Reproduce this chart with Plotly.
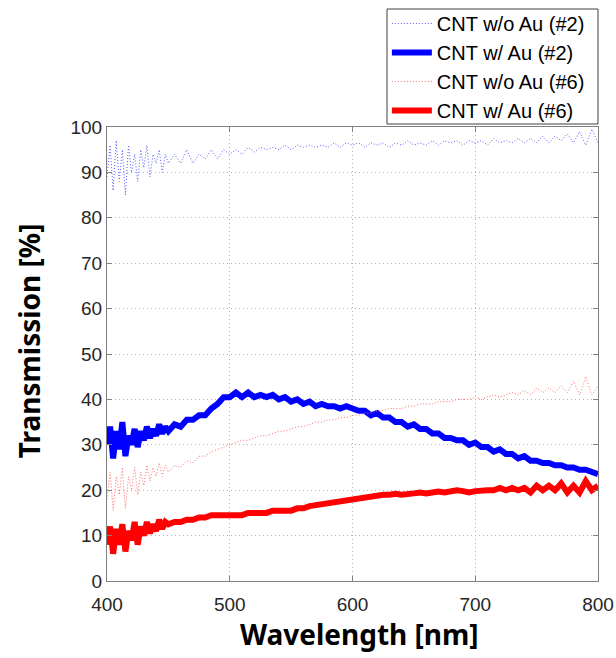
import plotly.graph_objects as go

# wavelength grid: 2.5 nm steps up to 450 nm, then 5 nm steps
wavelength = [400, 402.5, 405, 407.5, 410, 412.5, 415, 417.5, 420, 422.5, 425,
              427.5, 430, 432.5, 435, 437.5, 440, 442.5, 445, 447.5, 450] + list(range(455, 801, 5))

cnt_wo_au_2 = [89, 96, 86, 97, 88, 95, 85, 96, 90, 94, 88,
               95, 91, 96, 89, 94, 92, 95, 90, 94, 92,
               94, 92, 95, 92, 94, 93, 95, 93, 95, 94,
               95, 94, 95.5, 94.5, 95.5, 95, 95.5, 95, 96, 95,
               96, 95.5, 96, 95.5, 96, 95.5, 96.5, 95.5, 96.5, 96,
               96.5, 95.5, 96.5, 96, 96.5, 95.5, 96.5, 96, 97, 96,
               96.5, 96, 97, 96, 97, 96.5, 97, 96, 97, 96.5,
               97, 96, 97.5, 96.5, 97, 96.5, 97.5, 96.5, 97.5, 96.5,
               98, 96.5, 98, 97, 98.5, 96.5, 99, 96, 99.5, 96.5]

cnt_w_au_2 = [30, 34, 27, 33, 29, 35, 27.5, 32, 30, 33.5, 29.5,
              33, 31, 34, 31.5, 33.5, 32, 34.5, 32.5, 34, 33,
              34.5, 34, 35.5, 35.5, 36.5, 36.5, 38, 39, 40.5, 40.5,
              41.5, 40.5, 41.5, 40.5, 41, 40.5, 41, 40, 40.5, 39.5,
              40, 39, 39.5, 38.5, 39, 38.5, 38.5, 38, 38.5, 38,
              37.5, 37.5, 36.5, 37, 36, 36, 35, 35, 34, 34.5,
              33.5, 33.5, 32.5, 32.5, 31.5, 31.5, 31, 31, 30, 30.5,
              29.5, 29.5, 28.5, 29, 28, 28, 27, 27.5, 26.5, 26.5,
              26, 26, 25.5, 25.5, 25, 25, 24.5, 24.5, 24, 23.5]

cnt_wo_au_6 = [18, 24, 15.5, 23, 19, 25, 16, 23, 20, 25, 19,
               24, 21, 25.5, 22, 25, 23, 26, 23, 25.5, 24,
               25.5, 25, 26.5, 26, 27.5, 27.5, 28.5, 29, 29.5, 30,
               30.5, 31, 31, 31.5, 32, 32, 32.5, 33, 33, 33.5,
               34, 34, 34.5, 35, 35, 35.5, 35.5, 36, 36, 36.5,
               36.5, 37, 37, 37.5, 37.5, 38, 38, 38, 38.5, 38.5,
               39, 39, 39, 39.5, 39.5, 39.5, 40, 40, 40, 40.5,
               40, 40.5, 41, 40.5, 41, 41.5, 41, 42, 41, 42.5,
               41.5, 42.5, 41.5, 43, 41.5, 44, 41, 45, 41, 43]

cnt_w_au_6 = [8, 12, 6, 11.5, 8, 12.5, 6.5, 11, 9, 13, 8,
              12, 10, 13, 10.5, 12.5, 11, 13.5, 11.5, 13, 12.5,
              13, 13, 13.5, 13.5, 14, 14, 14.5, 14.5, 14.5, 14.5,
              14.5, 14.5, 15, 15, 15, 15, 15.5, 15.5, 15.5, 15.5,
              16, 16, 16.5, 16.7, 17, 17.2, 17.5, 17.7, 18, 18.2,
              18.3, 18.5, 18.7, 18.8, 19, 19, 19.2, 19, 19.3, 19.3,
              19.5, 19.3, 19.5, 19.7, 19.5, 19.8, 20, 19.8, 19.5, 19.8,
              20, 20, 20, 20.5, 20, 20.5, 20, 20.5, 19.5, 21,
              20, 21, 20, 21.5, 19.5, 21, 19.5, 22, 20, 21]

series = [
    ("CNT w/o Au (#2)", cnt_wo_au_2, "#5a5aff", 1, "1px,2px"),
    ("CNT w/ Au (#2)", cnt_w_au_2, "#0000ff", 6, "solid"),
    ("CNT w/o Au (#6)", cnt_wo_au_6, "#ff6b6b", 1, "1px,2px"),
    ("CNT w/ Au (#6)", cnt_w_au_6, "#ff0000", 6, "solid"),
]

fig = go.Figure()
for name, vals, color, width, dash in series:
    fig.add_trace(go.Scatter(x=wavelength, y=vals, mode="lines", name=name,
                             line=dict(color=color, width=width, dash=dash)))

axis_common = dict(
    showline=True, linecolor="#808080", linewidth=1, mirror="ticks",
    ticks="inside", ticklen=5, tickcolor="#808080",
    showgrid=True, gridcolor="#b4b4b4", gridwidth=1, griddash="1px,3px",
    zeroline=False,
    tickfont=dict(family="Liberation Sans, Arial", size=19, color="#262626"),
)

fig.update_xaxes(range=[400, 800], tickvals=[400, 500, 600, 700, 800],
                 ticklabelstandoff=6, **axis_common)
fig.update_yaxes(range=[0, 100], tickvals=list(range(0, 101, 10)), **axis_common)

fig.add_annotation(text="<b>Wavelength [nm]</b>", xref="paper", yref="paper",
                   x=0.515, y=-0.1167, xanchor="center", yanchor="middle",
                   showarrow=False,
                   font=dict(family="Noto Sans", size=28, color="#000000"))
fig.add_annotation(text="<b>Transmission [%]</b>", xref="paper", yref="paper",
                   x=-0.16, y=0.529, xanchor="center", yanchor="middle",
                   textangle=-90, showarrow=False,
                   font=dict(family="Noto Sans", size=28, color="#000000"))

# legend frame (paper coordinates, above the plot area)
fig.add_shape(type="rect", xref="paper", yref="paper",
              x0=(387 - 107) / 491, x1=1.0, y0=1 + 3 / 454, y1=1 + 118 / 454,
              line=dict(color="#404040", width=1), fillcolor="white", layer="above")

fig.update_layout(
    width=616, height=658,
    margin=dict(l=107, r=18, t=127, b=77, autoexpand=False),
    paper_bgcolor="white", plot_bgcolor="white",
    showlegend=True,
    legend=dict(x=0.570, xanchor="left", y=1.271, yanchor="top",
                borderwidth=0, bgcolor="rgba(0,0,0,0)",
                font=dict(family="Liberation Sans", size=20, color="#000000"),
                itemwidth=40, tracegroupgap=0),
)

fig.write_html("out.html")
